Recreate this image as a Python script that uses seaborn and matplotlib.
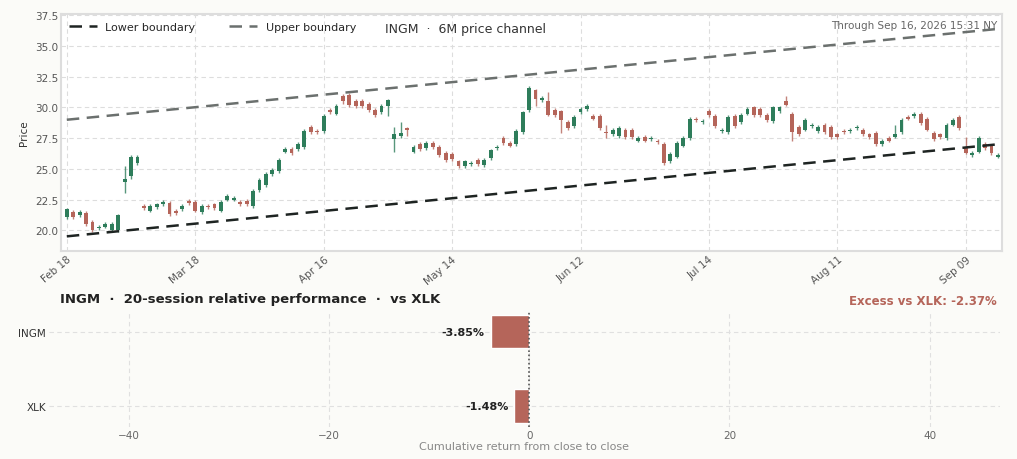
import matplotlib
matplotlib.use("Agg")
import matplotlib.pyplot as plt
import seaborn as sns
import numpy as np
import pandas as pd

opens = [21.1,21.5,21.2,21.4,20.7,20.2,20.3,20.0,20.0,23.9,24.4,25.5,22.0,21.6,21.9,22.1,22.2,21.6,21.7,22.4,
         22.3,21.5,22.0,22.1,21.6,22.5,22.5,22.3,22.4,22.0,23.3,23.7,24.6,24.8,26.4,26.6,26.6,26.8,28.4,28.1,
         28.1,29.8,29.5,30.9,31.0,30.5,30.5,30.3,29.8,29.6,30.1,27.4,27.7,28.3,26.4,27.0,26.7,27.1,26.8,26.3,
         26.2,25.6,25.2,25.4,25.7,25.3,25.9,26.7,27.5,27.1,27.0,28.0,29.8,31.4,30.6,30.5,29.8,29.7,28.8,28.5,
         29.6,29.9,29.3,29.3,28.0,27.8,27.7,28.2,28.2,27.3,27.6,27.4,27.3,27.0,25.6,26.0,26.9,27.5,29.1,28.8,
         29.7,29.3,28.1,28.0,29.3,28.8,29.5,30.0,29.9,29.4,28.9,29.7,30.5,29.5,28.4,28.2,28.5,28.1,28.6,28.4,
         27.8,28.1,28.1,28.3,28.2,27.8,27.9,27.0,27.5,27.6,28.0,29.2,29.3,29.5,29.1,27.9,27.8,27.5,28.6,29.2,
         26.8,26.1,26.4,27.0,26.9,26.0]
closes = [21.7,21.1,21.5,20.5,20.0,20.3,20.5,20.5,21.2,24.2,26.0,26.0,21.8,22.0,22.1,22.3,21.3,21.4,22.0,22.2,
          21.6,22.0,21.9,21.8,22.3,22.8,22.6,22.1,22.1,23.2,24.1,24.6,24.9,25.7,26.6,26.3,27.0,28.1,28.0,28.0,
          29.3,29.6,30.1,30.5,30.2,30.1,30.1,29.8,29.4,30.1,30.6,27.8,27.9,28.2,26.8,26.6,27.1,26.8,26.1,25.7,
          25.8,25.2,25.6,25.5,25.4,25.7,26.5,26.8,27.1,26.9,28.1,29.6,31.6,30.7,30.8,29.4,29.4,29.0,28.3,29.2,
          29.9,30.1,29.1,28.3,27.9,28.2,28.3,27.6,27.6,27.5,27.3,27.5,27.2,25.5,26.2,27.1,27.5,29.1,29.0,28.9,
          29.4,28.5,28.2,29.2,28.5,29.4,29.9,29.4,29.4,29.0,30.0,30.0,30.2,28.0,27.8,29.0,28.6,28.4,28.0,27.6,
          27.6,28.0,28.2,28.4,27.8,27.6,27.0,27.3,27.3,27.8,29.0,29.1,29.5,28.7,28.2,27.4,27.6,28.6,29.0,28.3,
          26.3,26.3,27.5,26.7,26.3,26.1]
wick_overrides = {9: (25.2, 23.0), 10: (26.1, 24.2), 43: (31.1, 30.3), 50: (30.7, 29.3), 51: (28.4, 26.4),
                  52: (28.8, 27.5), 53: (28.4, 27.7), 73: (31.5, 30.1), 75: (31.3, 29.3), 77: (29.8, 27.9),
                  84: (28.6, 27.5), 113: (29.6, 27.3), 112: (30.9, 30.1), 129: (28.6, 27.5), 140: (27.6, 26.2)}
lower_ends = [19.5, 27.0]
upper_ends = [29.0, 36.4]
tick_labels = ["Feb 18", "Mar 18", "Apr 16", "May 14", "Jun 12", "Jul 14", "Aug 11", "Sep 09"]
tick_idx = [0, 20, 40, 60, 80, 100, 120, 140]
perf_names = ["INGM", "XLK"]
perf_vals = [-3.85, -1.48]

GREEN = "#2e7d5b"; RED = "#b5655a"; BG = "#fbfbf8"
sns.set_theme(style="whitegrid")
plt.rcParams['font.family'] = ['DejaVu Sans']
fig = plt.figure(figsize=(10.17, 4.6), dpi=100, facecolor=BG)
ax = fig.add_axes([0.06, 0.452, 0.925, 0.515])
ax2 = fig.add_axes([0.048, 0.07, 0.935, 0.252])

n = len(opens)
for i, (o, c) in enumerate(zip(opens, closes)):
    hi, lo = wick_overrides.get(i, (max(o, c) + 0.15, min(o, c) - 0.15))
    col = GREEN if c >= o else RED
    ax.vlines(i, lo, hi, color=col, lw=1, alpha=0.8, zorder=2)
    ax.bar(i, max(abs(c - o), 0.06), bottom=min(o, c), width=0.6, color=col, zorder=3, linewidth=0)
line_df = pd.DataFrame({"x": [0, n - 1], "lower": lower_ends, "upper": upper_ends})
sns.lineplot(data=line_df, x="x", y="lower", ax=ax, color="#1e2422", lw=1.8, dashes=(5, 3), label="Lower boundary", zorder=4)
sns.lineplot(data=line_df, x="x", y="upper", ax=ax, color="#6b706e", lw=1.8, dashes=(5, 3), label="Upper boundary", zorder=4)
ax.set_xlim(-0.9, n - 0.4)
ax.set_ylim(18.3, 37.6)
yt = [20, 22.5, 25, 27.5, 30, 32.5, 35, 37.5]
ax.set_yticks(yt)
ax.set_yticklabels([f"{v:.1f}" for v in yt], fontsize=7.5, color="#555")
ax.set_xticks(tick_idx)
ax.set_xticklabels(tick_labels, rotation=40, fontsize=7.5, color="#555", ha="right", rotation_mode="anchor")
ax.set_xlabel("")
ax.set_ylabel("Price", fontsize=7.5, color="#333")
ax.grid(True, ls=(0, (4, 3)), color="#dddddd", lw=0.8)
ax.set_facecolor("white")
for s in ax.spines.values():
    s.set_color("#dddddd"); s.set_linewidth(1.5)
ax.tick_params(length=0, pad=2)
ax.legend(loc="upper left", ncol=2, frameon=False, fontsize=8, handlelength=2.5, columnspacing=3, borderaxespad=0.3)
ax.text(0.43, 0.94, "INGM  ·  6M price channel", transform=ax.transAxes, ha="center", va="center", fontsize=9, color="#333")
ax.text(0.995, 0.955, "Through Sep 16, 2026 15:31 NY", transform=ax.transAxes, ha="right", va="center", fontsize=7.5, color="#666")

pdf = pd.DataFrame({"name": perf_names, "val": perf_vals})
sns.barplot(data=pdf, x="val", y="name", ax=ax2, color=RED, width=0.45, orient="h", saturation=1)
ax2.set_facecolor(BG)
ax2.set_xlim(-48, 47)
ax2.set_ylim(1.28, -0.28)
ax2.set_xticks([-40, -20, 0, 20, 40])
ax2.set_xticklabels(["−40", "−20", "0", "20", "40"], fontsize=8, color="#666")
ax2.set_ylabel("")
ax2.set_xlabel("Cumulative return from close to close", fontsize=8, color="#888", labelpad=1)
ax2.tick_params(length=0, labelsize=7.5, pad=2)
for lab in ax2.get_yticklabels():
    lab.set_color("#333")
ax2.grid(True, ls=(0, (4, 3)), color="#e0e0e0", lw=0.8)
for s in ax2.spines.values():
    s.set_visible(False)
ax2.axvline(0, color="#555", ls=(0, (1, 1.5)), lw=1.2)
for i, v in enumerate(perf_vals):
    ax2.text(v - 0.6, i, f"{v:.2f}%", ha="right", va="center", fontsize=8, fontweight="bold", color="#222")
ax2.text(0.012, 1.05, "INGM  ·  20-session relative performance  ·  vs XLK", transform=ax2.transAxes,
         fontsize=9.5, fontweight="bold", color="#222", va="bottom")
ax2.text(0.997, 1.03, f"Excess vs XLK: {perf_vals[0] - perf_vals[1]:.2f}%", transform=ax2.transAxes,
         ha="right", fontsize=8.5, fontweight="bold", color=RED, va="bottom")
fig.savefig("out.png", dpi=100, facecolor=BG)
